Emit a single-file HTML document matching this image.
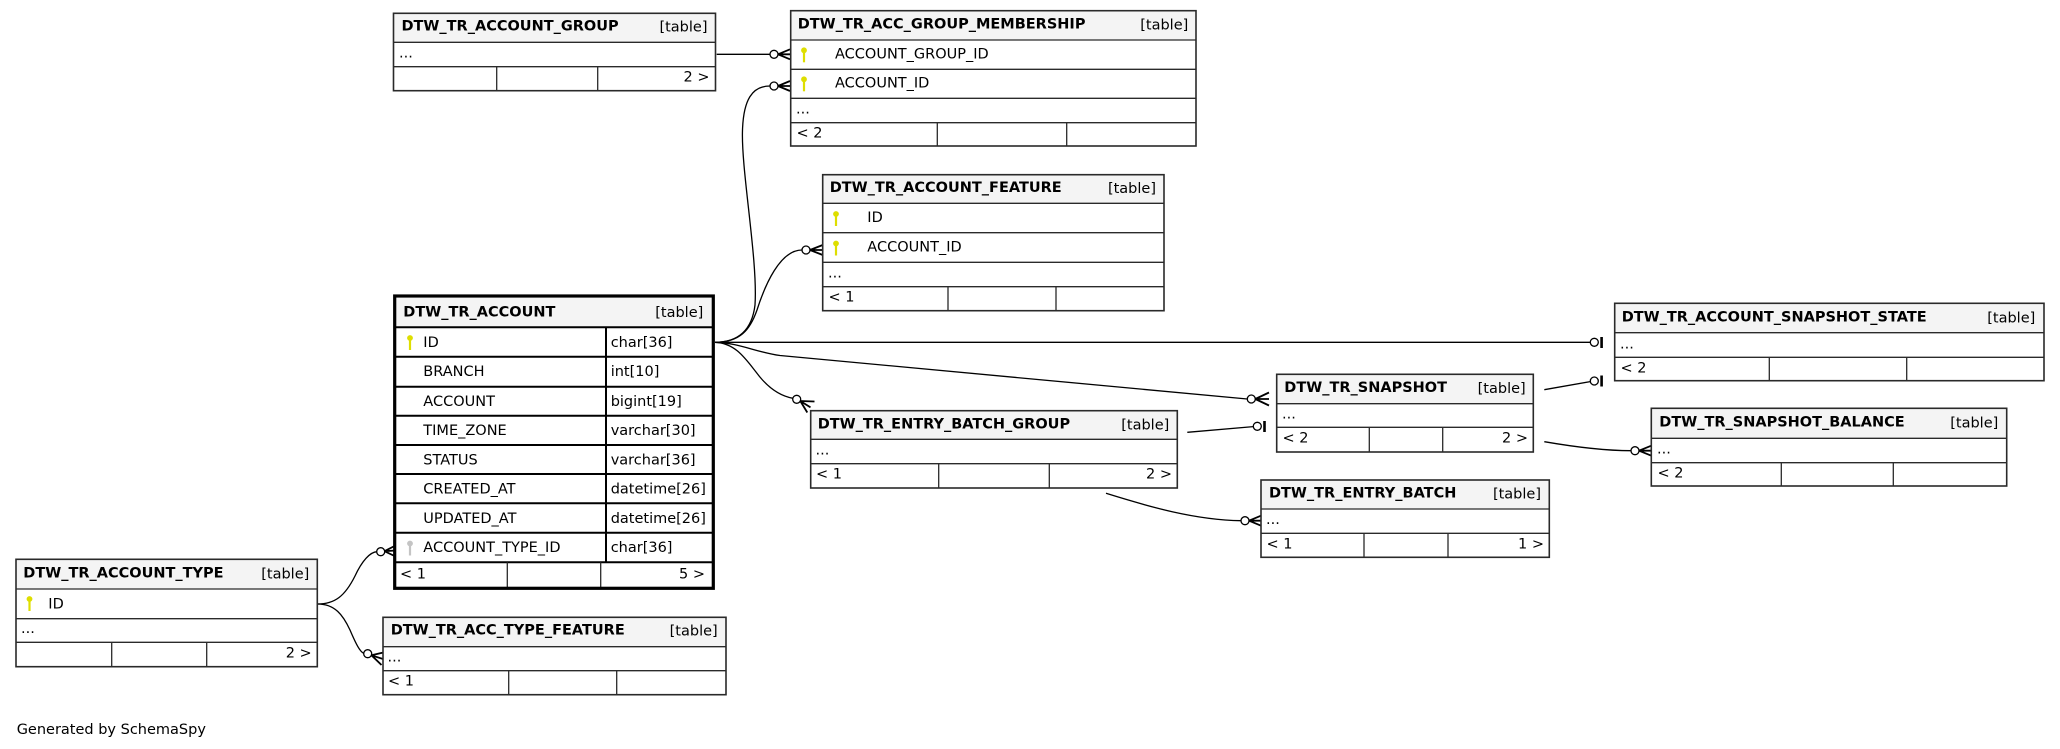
<!DOCTYPE html>
<html>
<head>
<meta charset="utf-8">
<style>
  html, body { margin: 0; padding: 0; background: #ffffff; }
  svg { display: block; }
  text { font-family: "DejaVu Sans", "Liberation Sans", sans-serif; font-size: 14.5px; fill: #000; }
  .b { font-weight: bold; }
  .hdr { fill: #f4f4f4; }
  .box { fill: none; stroke: #2a2a2a; stroke-width: 1.6; }
  .ln { stroke: #2a2a2a; stroke-width: 1.3; }
  .bx { fill: none; stroke: #000; stroke-width: 3.2; }
  .lnb { stroke: #000; stroke-width: 2; }
  .edge { fill: none; stroke: #000; stroke-width: 1.3; }
  .circ { fill: #fff; stroke: #000; stroke-width: 1.3; }
  .crow { fill: none; stroke: #000; stroke-width: 1.8; }
  .key { fill: #dede00; }
  .fkey { fill: #c4c4c4; }
</style>
</head>
<body>
<svg width="2060" height="749" viewBox="0 0 2060 749" xmlns="http://www.w3.org/2000/svg">
<rect x="0" y="0" width="2060" height="749" fill="#fff"/>

<!-- ===== EDGES ===== -->
<!-- C1 ACCOUNT_GROUP -> MEMBERSHIP -->
<path class="edge" d="M716.7,54.3 L770,54.3"/>
<circle class="circ" cx="774" cy="54.3" r="4"/>
<path class="crow" d="M778,54.3 L790,49.3 M778,54.3 L790,54.3 M778,54.3 L790,59.3"/>

<!-- C2 ACCOUNT -> MEMBERSHIP.ACCOUNT_ID -->
<path class="edge" d="M715,342.3 C738,342.3 752,330 755,305 C758,260 741,170 742.5,130 C743.5,100 752,86 770,86"/>
<circle class="circ" cx="774" cy="86" r="4"/>
<path class="crow" d="M778,86 L790,81 M778,86 L790,86 M778,86 L790,91"/>

<!-- C3 ACCOUNT -> FEATURE.ACCOUNT_ID -->
<path class="edge" d="M715,342.3 C740,342.3 750,330 757,310 C765,285 780,250 802,250"/>
<circle class="circ" cx="806" cy="250" r="4"/>
<path class="crow" d="M810,250 L822.7,245 M810,250 L822.7,250 M810,250 L822.7,255"/>

<!-- C4 ACCOUNT -> SNAPSHOT_STATE -->
<path class="edge" d="M715,342.3 L1590.3,342.3"/>
<circle class="circ" cx="1594.3" cy="342.3" r="4"/>
<rect x="1600.3" y="337" width="2.6" height="11" fill="#000"/>

<!-- C5 ACCOUNT -> SNAPSHOT -->
<path class="edge" d="M715,342.3 C740,343 755,352 780,355.5 L1247.3,399"/>
<circle class="circ" cx="1251.3" cy="399" r="4"/>
<path class="crow" d="M1255.3,399 L1269,392.5 M1255.3,399 L1269,399 M1255.3,399 L1269,405.5"/>

<!-- C6 ACCOUNT -> ENTRY_BATCH_GROUP -->
<path class="edge" d="M715,342.3 C735,343 745,358 756,372 C767,387 780,396 793,398.3"/>
<circle class="circ" cx="796.7" cy="399.3" r="4"/>
<path class="crow" d="M800.3,401 L807.3,412.5 M800.3,401 L810.5,407.4 M800.3,401 L814.5,401.5"/>

<!-- C7 ACCOUNT_TYPE -> ACCOUNT.ACCOUNT_TYPE_ID -->
<path class="edge" d="M317.5,604 C335,604 345,596 355,576 C362,561 370,552 377,551.7"/>
<circle class="circ" cx="380.7" cy="551.7" r="4"/>
<path class="crow" d="M384.5,551.2 L395.5,545.5 M384.5,551.2 L395.5,550.5 M384.5,551.2 L394.5,556"/>

<!-- C8 ACCOUNT_TYPE -> ACC_TYPE_FEATURE -->
<path class="edge" d="M317.5,604 C335,604 343,615 350,630 C356,644 360,652 364,653.5"/>
<circle class="circ" cx="367.7" cy="653.7" r="4"/>
<path class="crow" d="M371.5,655.3 L383.5,652.5 M371.5,655.3 L383,659 M371.5,655.3 L381.5,665"/>

<!-- C9 ENTRY_BATCH_GROUP -> SNAPSHOT -->
<path class="edge" d="M1187.3,432.3 L1253.3,426.6"/>
<circle class="circ" cx="1257.3" cy="426.3" r="4"/>
<rect x="1263.2" y="421" width="2.6" height="11" fill="#000"/>

<!-- C10 ENTRY_BATCH_GROUP -> ENTRY_BATCH -->
<path class="edge" d="M1106,493.3 C1150,507 1195,520 1241,520.7"/>
<circle class="circ" cx="1245" cy="520.7" r="4"/>
<path class="crow" d="M1249,520.7 L1261,515.7 M1249,520.7 L1261,520.7 M1249,520.7 L1261,525.7"/>

<!-- C11 SNAPSHOT -> SNAPSHOT_STATE -->
<path class="edge" d="M1544.3,389.7 L1590.3,381.6"/>
<circle class="circ" cx="1594.3" cy="381" r="4"/>
<rect x="1600.3" y="375.5" width="2.6" height="11" fill="#000"/>

<!-- C12 SNAPSHOT -> SNAPSHOT_BALANCE -->
<path class="edge" d="M1544.3,441.7 C1575,447 1605,450.7 1631,450.7"/>
<circle class="circ" cx="1635" cy="450.7" r="4"/>
<path class="crow" d="M1639,450.7 L1651.3,445.7 M1639,450.7 L1651.3,450.7 M1639,450.7 L1651.3,455.7"/>

<!-- ===== T1 DTW_TR_ACCOUNT_GROUP ===== -->
<rect x="393.5" y="13.3" width="322" height="77.4" fill="#fff"/>
<rect class="hdr" x="393.5" y="13.3" width="322" height="29"/>
<line class="ln" x1="393.5" y1="42.3" x2="715.5" y2="42.3"/>
<line class="ln" x1="393.5" y1="66.7" x2="715.5" y2="66.7"/>
<line class="ln" x1="496.7" y1="66.7" x2="496.7" y2="90.7"/>
<line class="ln" x1="597.7" y1="66.7" x2="597.7" y2="90.7"/>
<rect class="box" x="393.5" y="13.3" width="322" height="77.4"/>
<text class="b" x="401.5" y="30.3">DTW_TR_ACCOUNT_GROUP</text>
<text x="707.5" y="31.5" text-anchor="end">[table]</text>
<text x="399" y="57.5">...</text>
<text x="709.5" y="81.7" text-anchor="end">2 &gt;</text>

<!-- ===== T2 DTW_TR_ACC_GROUP_MEMBERSHIP ===== -->
<rect x="790.7" y="10.7" width="405.3" height="135.3" fill="#fff"/>
<rect class="hdr" x="790.7" y="10.7" width="405.3" height="29.3"/>
<line class="ln" x1="790.7" y1="40" x2="1196" y2="40"/>
<line class="ln" x1="790.7" y1="69.3" x2="1196" y2="69.3"/>
<line class="ln" x1="790.7" y1="98.3" x2="1196" y2="98.3"/>
<line class="ln" x1="790.7" y1="122.7" x2="1196" y2="122.7"/>
<line class="ln" x1="937.3" y1="122.7" x2="937.3" y2="146"/>
<line class="ln" x1="1066.7" y1="122.7" x2="1066.7" y2="146"/>
<rect class="box" x="790.7" y="10.7" width="405.3" height="135.3"/>
<text class="b" x="797.7" y="28.3">DTW_TR_ACC_GROUP_MEMBERSHIP</text>
<text x="1188.3" y="29.3" text-anchor="end">[table]</text>
<circle class="key" cx="804" cy="50.3" r="2.9"/><rect class="key" x="802.9" y="51.5" width="2.2" height="10.8"/>
<text x="835" y="58.5">ACCOUNT_GROUP_ID</text>
<circle class="key" cx="804" cy="79.3" r="2.9"/><rect class="key" x="802.9" y="80.5" width="2.2" height="10.8"/>
<text x="835" y="87.5">ACCOUNT_ID</text>
<text x="796" y="113.3">...</text>
<text x="796.5" y="137.7">&lt; 2</text>

<!-- ===== T3 DTW_TR_ACCOUNT_FEATURE ===== -->
<rect x="822.7" y="174.7" width="341.3" height="136" fill="#fff"/>
<rect class="hdr" x="822.7" y="174.7" width="341.3" height="28.6"/>
<line class="ln" x1="822.7" y1="203.3" x2="1164" y2="203.3"/>
<line class="ln" x1="822.7" y1="232.7" x2="1164" y2="232.7"/>
<line class="ln" x1="822.7" y1="262.3" x2="1164" y2="262.3"/>
<line class="ln" x1="822.7" y1="286.7" x2="1164" y2="286.7"/>
<line class="ln" x1="948" y1="286.7" x2="948" y2="310.7"/>
<line class="ln" x1="1056" y1="286.7" x2="1056" y2="310.7"/>
<rect class="box" x="822.7" y="174.7" width="341.3" height="136"/>
<text class="b" x="829.7" y="192.2">DTW_TR_ACCOUNT_FEATURE</text>
<text x="1156" y="193.2" text-anchor="end">[table]</text>
<circle class="key" cx="836" cy="214" r="2.9"/><rect class="key" x="834.9" y="215.2" width="2.2" height="10.8"/>
<text x="867.3" y="222">ID</text>
<circle class="key" cx="836" cy="243.5" r="2.9"/><rect class="key" x="834.9" y="244.7" width="2.2" height="10.8"/>
<text x="867.3" y="251.5">ACCOUNT_ID</text>
<text x="828" y="277.3">...</text>
<text x="828.5" y="301.7">&lt; 1</text>

<!-- ===== T4 DTW_TR_ACCOUNT (focused) ===== -->
<rect x="394.7" y="296" width="318.6" height="292.3" fill="#fff"/>
<rect class="hdr" x="394.7" y="296" width="318.6" height="31.3"/>
<line class="lnb" x1="394.7" y1="327.3" x2="713.3" y2="327.3"/>
<line class="lnb" x1="394.7" y1="356.7" x2="713.3" y2="356.7"/>
<line class="lnb" x1="394.7" y1="386.7" x2="713.3" y2="386.7"/>
<line class="lnb" x1="394.7" y1="415.7" x2="713.3" y2="415.7"/>
<line class="lnb" x1="394.7" y1="445" x2="713.3" y2="445"/>
<line class="lnb" x1="394.7" y1="474" x2="713.3" y2="474"/>
<line class="lnb" x1="394.7" y1="503.3" x2="713.3" y2="503.3"/>
<line class="lnb" x1="394.7" y1="532.7" x2="713.3" y2="532.7"/>
<line class="lnb" x1="394.7" y1="562.3" x2="713.3" y2="562.3"/>
<line class="lnb" x1="606" y1="327.3" x2="606" y2="562.3"/>
<line class="ln" x1="507.3" y1="562.3" x2="507.3" y2="588.3"/>
<line class="ln" x1="600.7" y1="562.3" x2="600.7" y2="588.3"/>
<rect class="bx" x="394.7" y="296" width="318.6" height="292.3"/>
<text class="b" x="403.3" y="316.3">DTW_TR_ACCOUNT</text>
<text x="703.3" y="317" text-anchor="end">[table]</text>
<circle class="key" cx="410" cy="338" r="2.9"/><rect class="key" x="408.9" y="339.2" width="2.2" height="10.8"/>
<text x="423.3" y="346.8">ID</text><text x="610.7" y="346.8">char[36]</text>
<text x="423.3" y="376.2">BRANCH</text><text x="610.7" y="376.2">int[10]</text>
<text x="423.3" y="406.2">ACCOUNT</text><text x="610.7" y="406.2">bigint[19]</text>
<text x="423.3" y="435.2">TIME_ZONE</text><text x="610.7" y="435.2">varchar[30]</text>
<text x="423.3" y="464.5">STATUS</text><text x="610.7" y="464.5">varchar[36]</text>
<text x="423.3" y="493.5">CREATED_AT</text><text x="610.7" y="493.5">datetime[26]</text>
<text x="423.3" y="522.8">UPDATED_AT</text><text x="610.7" y="522.8">datetime[26]</text>
<circle class="fkey" cx="410" cy="543.5" r="2.9"/><rect class="fkey" x="408.9" y="544.7" width="2.2" height="10.8"/>
<text x="423.3" y="552.2">ACCOUNT_TYPE_ID</text><text x="610.7" y="552.2">char[36]</text>
<text x="400" y="578.3">&lt; 1</text>
<text x="705" y="578.3" text-anchor="end">5 &gt;</text>

<!-- ===== T5 DTW_TR_ACCOUNT_TYPE ===== -->
<rect x="16" y="559.3" width="301.3" height="107.4" fill="#fff"/>
<rect class="hdr" x="16" y="559.3" width="301.3" height="29.7"/>
<line class="ln" x1="16" y1="589" x2="317.3" y2="589"/>
<line class="ln" x1="16" y1="618.7" x2="317.3" y2="618.7"/>
<line class="ln" x1="16" y1="642.3" x2="317.3" y2="642.3"/>
<line class="ln" x1="111.7" y1="642.3" x2="111.7" y2="666.7"/>
<line class="ln" x1="206.7" y1="642.3" x2="206.7" y2="666.7"/>
<rect class="box" x="16" y="559.3" width="301.3" height="107.4"/>
<text class="b" x="23.3" y="577.3">DTW_TR_ACCOUNT_TYPE</text>
<text x="309.3" y="578.3" text-anchor="end">[table]</text>
<circle class="key" cx="29.5" cy="599" r="2.9"/><rect class="key" x="28.4" y="600.2" width="2.2" height="10.8"/>
<text x="48.3" y="608.3">ID</text>
<text x="21" y="633">...</text>
<text x="311.7" y="657.7" text-anchor="end">2 &gt;</text>

<!-- ===== T6 DTW_TR_ACC_TYPE_FEATURE ===== -->
<rect x="383" y="617.3" width="343" height="77.4" fill="#fff"/>
<rect class="hdr" x="383" y="617.3" width="343" height="29.4"/>
<line class="ln" x1="383" y1="646.7" x2="726" y2="646.7"/>
<line class="ln" x1="383" y1="670.7" x2="726" y2="670.7"/>
<line class="ln" x1="508.7" y1="670.7" x2="508.7" y2="694.7"/>
<line class="ln" x1="616.7" y1="670.7" x2="616.7" y2="694.7"/>
<rect class="box" x="383" y="617.3" width="343" height="77.4"/>
<text class="b" x="390.7" y="634.5">DTW_TR_ACC_TYPE_FEATURE</text>
<text x="717.7" y="635.7" text-anchor="end">[table]</text>
<text x="387.5" y="661.7">...</text>
<text x="388" y="685.7">&lt; 1</text>

<!-- ===== T7 DTW_TR_ENTRY_BATCH_GROUP ===== -->
<rect x="810.7" y="410.7" width="366.6" height="77.3" fill="#fff"/>
<rect class="hdr" x="810.7" y="410.7" width="366.6" height="28.6"/>
<line class="ln" x1="810.7" y1="439.3" x2="1177.3" y2="439.3"/>
<line class="ln" x1="810.7" y1="463.7" x2="1177.3" y2="463.7"/>
<line class="ln" x1="938.7" y1="463.7" x2="938.7" y2="488"/>
<line class="ln" x1="1049.3" y1="463.7" x2="1049.3" y2="488"/>
<rect class="box" x="810.7" y="410.7" width="366.6" height="77.3"/>
<text class="b" x="817.7" y="428.7">DTW_TR_ENTRY_BATCH_GROUP</text>
<text x="1169.3" y="429.5" text-anchor="end">[table]</text>
<text x="815.5" y="454.3">...</text>
<text x="816" y="478.7">&lt; 1</text>
<text x="1172" y="478.7" text-anchor="end">2 &gt;</text>

<!-- ===== T8 DTW_TR_SNAPSHOT ===== -->
<rect x="1276.7" y="374.3" width="256.6" height="77.7" fill="#fff"/>
<rect class="hdr" x="1276.7" y="374.3" width="256.6" height="29.4"/>
<line class="ln" x1="1276.7" y1="403.7" x2="1533.3" y2="403.7"/>
<line class="ln" x1="1276.7" y1="427.3" x2="1533.3" y2="427.3"/>
<line class="ln" x1="1369.3" y1="427.3" x2="1369.3" y2="452"/>
<line class="ln" x1="1442.7" y1="427.3" x2="1442.7" y2="452"/>
<rect class="box" x="1276.7" y="374.3" width="256.6" height="77.7"/>
<text class="b" x="1284.3" y="392.2">DTW_TR_SNAPSHOT</text>
<text x="1525.7" y="393" text-anchor="end">[table]</text>
<text x="1282" y="418.3">...</text>
<text x="1282.5" y="442.3">&lt; 2</text>
<text x="1528" y="442.3" text-anchor="end">2 &gt;</text>

<!-- ===== T9 DTW_TR_ENTRY_BATCH ===== -->
<rect x="1261" y="480" width="288.3" height="77.3" fill="#fff"/>
<rect class="hdr" x="1261" y="480" width="288.3" height="29"/>
<line class="ln" x1="1261" y1="509" x2="1549.3" y2="509"/>
<line class="ln" x1="1261" y1="533.3" x2="1549.3" y2="533.3"/>
<line class="ln" x1="1364" y1="533.3" x2="1364" y2="557.3"/>
<line class="ln" x1="1448" y1="533.3" x2="1448" y2="557.3"/>
<rect class="box" x="1261" y="480" width="288.3" height="77.3"/>
<text class="b" x="1269" y="497.5">DTW_TR_ENTRY_BATCH</text>
<text x="1541" y="498.5" text-anchor="end">[table]</text>
<text x="1266" y="524">...</text>
<text x="1266.5" y="548.3">&lt; 1</text>
<text x="1544" y="548.3" text-anchor="end">1 &gt;</text>

<!-- ===== T10 DTW_TR_ACCOUNT_SNAPSHOT_STATE ===== -->
<rect x="1614.7" y="303.3" width="429.3" height="77.4" fill="#fff"/>
<rect class="hdr" x="1614.7" y="303.3" width="429.3" height="29.4"/>
<line class="ln" x1="1614.7" y1="332.7" x2="2044" y2="332.7"/>
<line class="ln" x1="1614.7" y1="357.3" x2="2044" y2="357.3"/>
<line class="ln" x1="1769.3" y1="357.3" x2="1769.3" y2="380.7"/>
<line class="ln" x1="1906.7" y1="357.3" x2="1906.7" y2="380.7"/>
<rect class="box" x="1614.7" y="303.3" width="429.3" height="77.4"/>
<text class="b" x="1621.7" y="321.5">DTW_TR_ACCOUNT_SNAPSHOT_STATE</text>
<text x="2035.3" y="322.5" text-anchor="end">[table]</text>
<text x="1620" y="348.3">...</text>
<text x="1620.5" y="372.3">&lt; 2</text>

<!-- ===== T11 DTW_TR_SNAPSHOT_BALANCE ===== -->
<rect x="1651.3" y="408.3" width="355.4" height="77.7" fill="#fff"/>
<rect class="hdr" x="1651.3" y="408.3" width="355.4" height="30"/>
<line class="ln" x1="1651.3" y1="438.3" x2="2006.7" y2="438.3"/>
<line class="ln" x1="1651.3" y1="462.7" x2="2006.7" y2="462.7"/>
<line class="ln" x1="1781.3" y1="462.7" x2="1781.3" y2="486"/>
<line class="ln" x1="1893.3" y1="462.7" x2="1893.3" y2="486"/>
<rect class="box" x="1651.3" y="408.3" width="355.4" height="77.7"/>
<text class="b" x="1659.3" y="426.7">DTW_TR_SNAPSHOT_BALANCE</text>
<text x="1998.3" y="427.7" text-anchor="end">[table]</text>
<text x="1657" y="453.3">...</text>
<text x="1657.5" y="477.7">&lt; 2</text>

<!-- Footer -->
<text x="16.7" y="734">Generated by SchemaSpy</text>
</svg>
</body>
</html>
